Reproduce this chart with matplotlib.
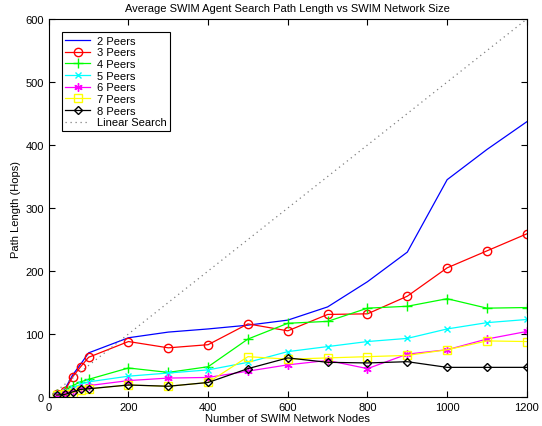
import numpy as np
import matplotlib.pyplot as plt

# razmer seti (uzly)
nodes = [20, 40, 60, 80, 100, 200, 300, 400, 500, 600, 700, 800, 900, 1000, 1100, 1200]

peers2 = [5, 12, 35, 52, 70, 94, 103, 108, 114, 122, 143, 183, 230, 345, 393, 437]
peers3 = [5, 10, 32, 48, 63, 88, 78, 83, 116, 105, 131, 132, 160, 205, 232, 259]
peers4 = [5, 10, 18, 24, 28, 46, 39, 48, 92, 117, 120, 141, 144, 156, 141, 142]
peers5 = [4, 8, 14, 20, 24, 33, 38, 43, 55, 72, 80, 88, 93, 108, 118, 123]
peers6 = [3, 6, 10, 15, 18, 26, 30, 31, 41, 51, 58, 45, 68, 75, 92, 104]
peers7 = [3, 4, 7, 11, 13, 19, 17, 23, 64, 60, 62, 64, 66, 75, 89, 88]
peers8 = [3, 4, 8, 12, 13, 19, 17, 23, 45, 62, 55, 54, 56, 47, 47, 47]

linear_x = [0, 1200]
linear_y = [0, 600]

plt.rcParams['font.family'] = ['Liberation Sans', 'DejaVu Sans']
plt.rcParams['font.size'] = 8

fig = plt.figure(figsize=(5.42, 4.27), dpi=100, facecolor="white")
ax = fig.add_axes([0.090, 0.068, 0.882, 0.885])

lw = 0.9
ax.plot(nodes, peers2, color="blue", lw=lw, label="2 Peers")
ax.plot(nodes, peers3, color="red", lw=lw, marker="o", ms=6, mfc="none", label="3 Peers")
ax.plot(nodes, peers4, color="lime", lw=lw, marker="+", ms=7, label="4 Peers")
ax.plot(nodes, peers5, color="cyan", lw=lw, marker="x", ms=5, label="5 Peers")
ax.plot(nodes, peers6, color="magenta", lw=lw, marker=(6, 2, 0), ms=6, label="6 Peers")
ax.plot(nodes, peers7, color="yellow", lw=lw, marker="s", ms=5.5, mfc="none", label="7 Peers")
ax.plot(nodes, peers8, color="black", lw=lw, marker="D", ms=4.5, mfc="none", label="8 Peers")
ax.plot(linear_x, linear_y, color="gray", lw=0.9, ls=(0, (1, 3)), label="Linear Search")

ax.set_xlim(0, 1200)
ax.set_ylim(0, 600)
ax.set_xticks(np.arange(0, 1201, 200))
ax.set_yticks(np.arange(0, 601, 100))
ax.tick_params(direction="in", top=True, right=True, length=4, labelsize=8)
for s in ax.spines.values():
    s.set_linewidth(0.8)

ax.set_title("Average SWIM Agent Search Path Length vs SWIM Network Size", fontsize=8, pad=6)
ax.set_xlabel("Number of SWIM Network Nodes", fontsize=8, labelpad=1)
ax.set_ylabel("Path Length (Hops)", fontsize=8, labelpad=3)

leg = ax.legend(loc="upper left", fontsize=8, fancybox=False, framealpha=1,
                edgecolor="black", handlelength=2.2, labelspacing=0.15,
                borderaxespad=1.2, handletextpad=0.6, borderpad=0.3)
leg.get_frame().set_linewidth(0.8)

fig.savefig("out.png", dpi=100)
